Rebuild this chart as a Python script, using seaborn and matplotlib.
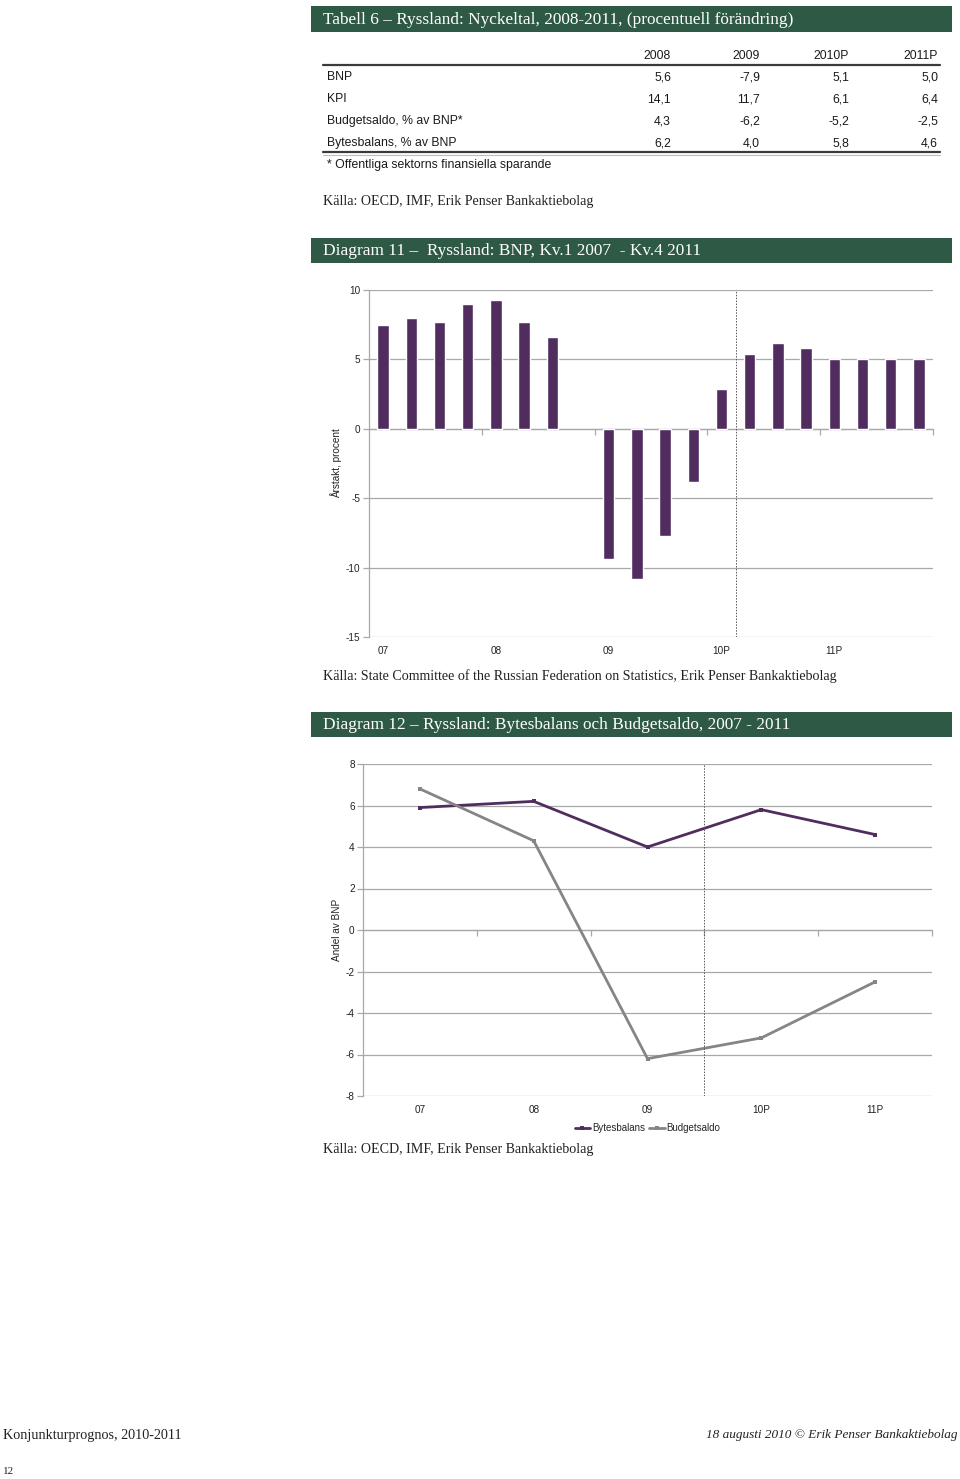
import numpy as np
import pandas as pd
import matplotlib
matplotlib.use("Agg")
import matplotlib.pyplot as plt
import seaborn as sns
from matplotlib.patches import Rectangle
from matplotlib.lines import Line2D

# Table data
table_cols = ["2008", "2009", "2010P", "2011P"]
table_rows = ["BNP", "KPI", "Budgetsaldo, % av BNP*", "Bytesbalans, % av BNP"]
bnp_row = [5.6, -7.9, 5.1, 5.0]
kpi_row = [14.1, 11.7, 6.1, 6.4]
budget_row = [4.3, -6.2, -5.2, -2.5]
bytes_row = [6.2, 4.0, 5.8, 4.6]

# Diagram 11: quarterly GDP, 2007 Q1 - 2011 Q4 (2008 Q4 missing in source)
quarters = [f"{y}K{q}" for y in ["07", "08", "09", "10", "11"] for q in range(1, 5)]
gdp_growth = [7.5, 8.0, 7.7, 9.0,
              9.3, 7.7, 6.6, np.nan,
              -9.4, -10.8, -7.7, -3.8,
              2.9, 5.4, 6.2, 5.8,
              5.0, 5.0, 5.0, 5.0]
year_labels = ["07", "08", "09", "10P", "11P"]

# Diagram 12: current account and budget balance, % of GDP
years = ["07", "08", "09", "10P", "11P"]
bytesbalans = [5.9, 6.2, 4.0, 5.8, 4.6]
budgetsaldo = [6.8, 4.3, -6.2, -5.2, -2.5]

W, H = 960, 1479
PURPLE = "#512D5F"
GREY_LINE = "#858585"
GREEN = "#2E5A45"
GRID = "#a8a8a8"
SERIF = ["Liberation Serif", "DejaVu Serif"]
SANS = ["Liberation Sans", "DejaVu Sans"]

sns.set_theme(style="white")
plt.rcParams["font.family"] = SANS
plt.rcParams["axes.unicode_minus"] = False


def fx(x):
    return x / W


def fy(y):
    return 1 - y / H


def axes_box(x0, y0, x1, y1):
    return [fx(x0), fy(y1), (x1 - x0) / W, (y1 - y0) / H]


def header(fig, y0, y1, text):
    fig.add_artist(Rectangle((fx(311), fy(y1)), (952 - 311) / W, (y1 - y0) / H,
                             transform=fig.transFigure, color=GREEN, lw=0))
    fig.text(fx(323), fy((y0 + y1) / 2 + 0.5), text, color="white", fontsize=12.4,
             family=SERIF, va="center", ha="left")


def fmt(v):
    return f"{v:.1f}".replace(".", ",")


def style_axes(ax, ymin, ymax, step, zero_ticks):
    ax.set_ylim(ymin, ymax)
    ax.set_yticks(np.arange(ymin, ymax + step / 2, step))
    ax.yaxis.grid(True, color=GRID, lw=0.9)
    ax.xaxis.grid(False)
    for s in ["top", "right", "bottom"]:
        ax.spines[s].set_visible(False)
    ax.spines["left"].set_color(GRID)
    ax.spines["left"].set_linewidth(0.9)
    ax.tick_params(axis="y", length=4, width=0.9, color=GRID, pad=2, labelsize=7.2, labelcolor="#222222", left=True)
    ax.tick_params(axis="x", length=0, pad=6.5, labelsize=7.2, labelcolor="#222222")
    # category tick marks sit on the zero line (Excel style)
    sec = ax.secondary_xaxis(0, transform=ax.transData)
    sec.set_xticks(zero_ticks)
    sec.set_xticklabels([])
    sec.tick_params(axis="x", direction="out", length=4, width=0.9, color=GRID)
    sec.spines["bottom"].set_color(GRID)
    sec.spines["bottom"].set_linewidth(0.9)


fig = plt.figure(figsize=(W / 100, H / 100), dpi=100)

# ---------- Table ----------
header(fig, 6, 32, "Tabell 6 – Ryssland: Nyckeltal, 2008-2011, (procentuell förändring)")
col_x = [671, 760, 849, 938]
for cx, c in zip(col_x, table_cols):
    fig.text(fx(cx), fy(56), c, ha="right", va="center", fontsize=8.8, color="#1a1a1a")
fig.add_artist(Line2D([fx(323), fx(940)], [fy(65), fy(65)], transform=fig.transFigure, color="#3a3a3a", lw=1.6))
row_y = [77, 99, 121, 143]
for ry, label, vals in zip(row_y, table_rows, [bnp_row, kpi_row, budget_row, bytes_row]):
    fig.text(fx(327), fy(ry), label, ha="left", va="center", fontsize=8.8, color="#1a1a1a")
    for cx, v in zip(col_x, vals):
        fig.text(fx(cx), fy(ry), fmt(v), ha="right", va="center", fontsize=8.8, color="#1a1a1a")
fig.add_artist(Line2D([fx(323), fx(940)], [fy(152), fy(152)], transform=fig.transFigure, color="#3a3a3a", lw=1.6))
fig.add_artist(Line2D([fx(323), fx(940)], [fy(154.5), fy(154.5)], transform=fig.transFigure, color="#bdbdbd", lw=0.8))
fig.text(fx(327), fy(165), "* Offentliga sektorns finansiella sparande", ha="left", va="center",
         fontsize=8.8, color="#1a1a1a")
fig.text(fx(323), fy(202), "Källa: OECD, IMF, Erik Penser Bankaktiebolag", ha="left", va="center",
         fontsize=10.1, family=SERIF, color="#222222")

# ---------- Diagram 11 ----------
header(fig, 238, 263, "Diagram 11 –  Ryssland: BNP, Kv.1 2007  - Kv.4 2011")
ax1 = fig.add_axes(axes_box(369, 290, 933, 637))
df_gdp = pd.DataFrame({"kvartal": quarters, "varde": gdp_growth})
sns.barplot(data=df_gdp, x="kvartal", y="varde", order=quarters, color=PURPLE,
            saturation=1, width=0.4, errorbar=None, ax=ax1)
ax1.set_xlim(-0.5, len(quarters) - 0.5)
style_axes(ax1, -15, 10, 5, [3.5, 7.5, 11.5, 15.5, 19.5])
ax1.set_xticks([0, 4, 8, 12, 16])
ax1.set_xticklabels(year_labels)
ax1.set_xlabel("")
ax1.set_ylabel("Årstakt, procent", fontsize=7.2, color="#222222", labelpad=3)
ax1.axvline(12.5, color="#555555", lw=0.7, ls=(0, (1.5, 1.5)))
fig.text(fx(323), fy(676), "Källa: State Committee of the Russian Federation on Statistics, Erik Penser Bankaktiebolag",
         ha="left", va="center", fontsize=10.1, family=SERIF, color="#222222")

# ---------- Diagram 12 ----------
header(fig, 712, 737, "Diagram 12 – Ryssland: Bytesbalans och Budgetsaldo, 2007 - 2011")
ax2 = fig.add_axes(axes_box(363, 764, 932, 1096))
df_bal = pd.DataFrame({"ar": years, "Bytesbalans": bytesbalans, "Budgetsaldo": budgetsaldo})
sns.lineplot(data=df_bal, x="ar", y="Bytesbalans", color=PURPLE, lw=2, marker="s", markersize=3.5,
             markeredgewidth=0, label="Bytesbalans", ax=ax2)
sns.lineplot(data=df_bal, x="ar", y="Budgetsaldo", color=GREY_LINE, lw=2, marker="s", markersize=3.5,
             markeredgewidth=0, label="Budgetsaldo", ax=ax2)
ax2.set_xlim(-0.5, len(years) - 0.5)
style_axes(ax2, -8, 8, 2, [0.5, 1.5, 2.5, 3.5, 4.5])
ax2.set_xlabel("")
ax2.set_ylabel("Andel av BNP", fontsize=7.2, color="#222222", labelpad=3)
ax2.axvline(2.5, color="#555555", lw=0.7, ls=(0, (1.5, 1.5)))
ax2.legend(loc="center", bbox_to_anchor=(0.5, -32 / 332), ncol=2, frameon=False, fontsize=7,
           handlelength=1.6, handletextpad=0.2, columnspacing=0.4, borderaxespad=0)
fig.text(fx(323), fy(1150), "Källa: OECD, IMF, Erik Penser Bankaktiebolag", ha="left", va="center",
         fontsize=10.1, family=SERIF, color="#222222")

# ---------- Footer ----------
fig.text(fx(3), fy(1435), "Konjunkturprognos, 2010-2011", ha="left", va="center", fontsize=10.2,
         family=SERIF, color="#222222")
fig.text(fx(958), fy(1435), "18 augusti 2010 © Erik Penser Bankaktiebolag", ha="right", va="center",
         fontsize=9.5, family=SERIF, style="italic", color="#222222")
fig.text(fx(3), fy(1471), "12", ha="left", va="center", fontsize=8, family=SERIF, color="#222222")

fig.savefig("out.png", dpi=100, facecolor="white")
